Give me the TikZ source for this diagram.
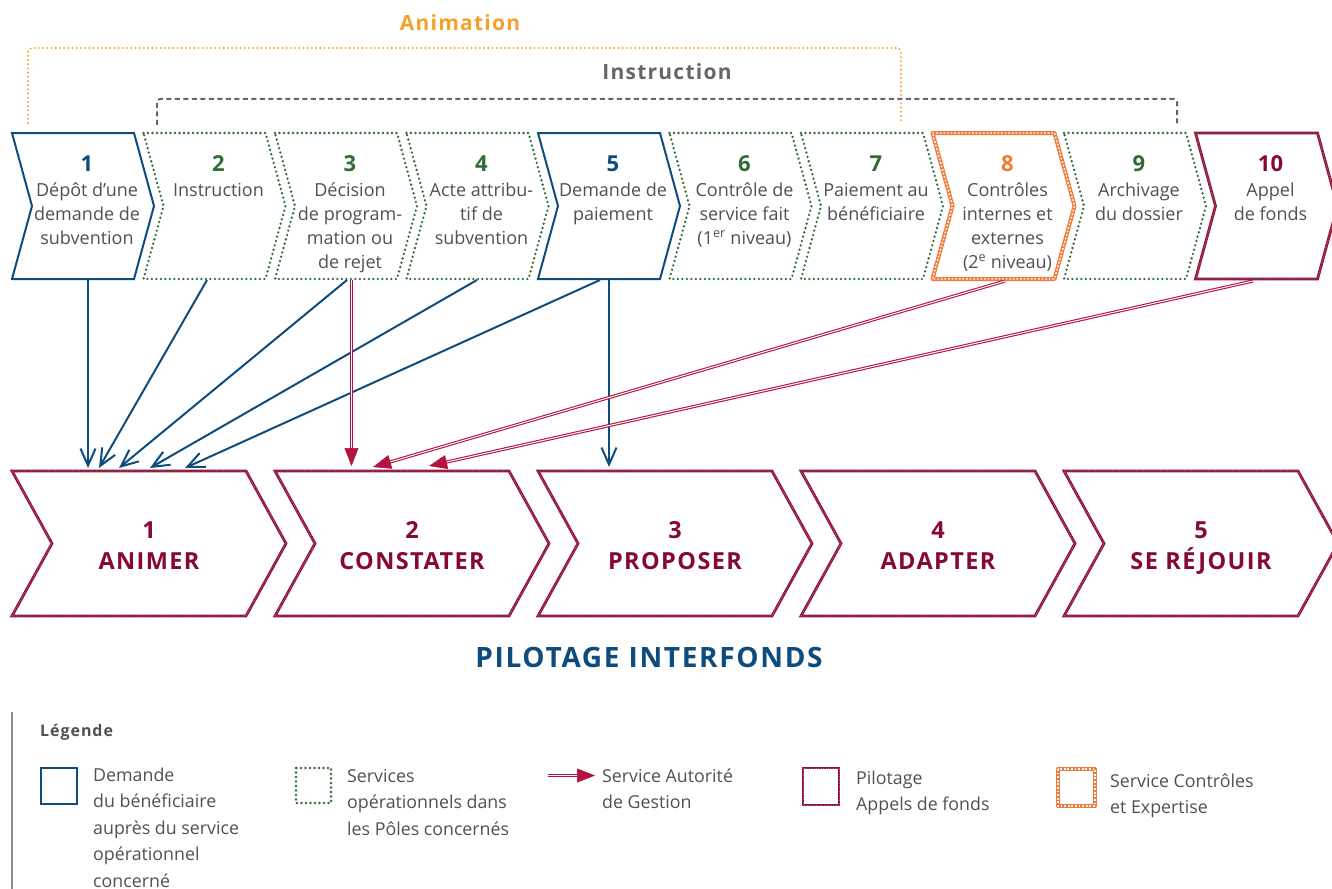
\documentclass[tikz,border=0pt]{standalone}
\usepackage{fontspec}
\setmainfont{Open Sans}
\newfontfamily\spaced{Open Sans}[LetterSpace=6]
\usetikzlibrary{arrows.meta,calc}
\definecolor{blueC}{HTML}{0F4C7E}
\definecolor{greenC}{HTML}{2E6B32}
\definecolor{greenN}{HTML}{2F6B35}
\definecolor{orangeC}{HTML}{F07A3A}
\definecolor{orangeA}{HTML}{F5A02A}
\definecolor{redD}{HTML}{8A1538}
\definecolor{redL}{HTML}{C85A78}
\definecolor{redN}{HTML}{860A2E}
\definecolor{crimC}{HTML}{B5123F}
\definecolor{grayT}{HTML}{505050}
\definecolor{grayB}{HTML}{666666}
\tikzset{
  chevblue/.style={draw=blueC,line width=2pt,line join=miter},
  chevgreen/.style={draw=greenC,line width=2.6pt,dash pattern=on 0pt off 4.5pt,line cap=round},
  chainline/.style={draw=orangeC,line width=4pt,line join=round,postaction={draw=white,line width=1.4pt,dash pattern=on 1.8pt off 1.8pt}},
  pilotline/.style={draw=redD,line width=2.8pt,line join=miter,postaction={draw=redL,line width=0.9pt,dash pattern=on 1pt off 1.4pt}},
  numtxt/.style={anchor=base,inner sep=0pt,font=\fontsize{22}{24}\selectfont\bfseries},
  bodytxt/.style={anchor=base,inner sep=0pt,align=center,text=grayT,font=\fontsize{18}{24}\selectfont},
  lowtxt/.style={anchor=base,inner sep=0pt,align=center,text=redN,font=\spaced\fontsize{23.5}{31.5}\selectfont\bfseries},
  legtxt/.style={anchor=base west,inner sep=0pt,align=left,text=grayT,font=\fontsize{17.8}{26.5}\selectfont},
  feed/.style={draw=blueC,line width=2pt,-{Straight Barb[length=17pt,width=15pt,line width=2pt]}},
  sagline/.style={draw=crimC,line width=1.1pt,double=white,double distance=1pt},
  sagtip/.style={draw=crimC,line width=0.6pt,-{Triangle[length=18pt,width=14pt]}},
}
\begin{document}
\begin{tikzpicture}[x=1pt,y=-1pt]
\useasboundingbox (0,0) rectangle (1332,888);
% brackets
\draw[orangeA,line width=2.2pt,dash pattern=on 0pt off 4.2pt,line cap=round,rounded corners=4pt]
  (28,123) -- (28,48) -- (901,48) -- (901,123);
\draw[grayB,line width=2pt,dash pattern=on 5pt off 3.5pt,rounded corners=3pt]
  (157,125) -- (157,99) -- (1177,99) -- (1177,125);
\node[anchor=base,inner sep=0pt,text=orangeA,font=\spaced\fontsize{21}{24}\selectfont\bfseries] (lanim) at (460,31) {Animation};
\node[anchor=base,inner sep=0pt,text=grayB,font=\spaced\fontsize{21}{24}\selectfont\bfseries] (linstr) at (667,80) {Instruction};
% top chevrons
\foreach \k in {1,2,3,5,6,8}{
  \pgfmathsetmacro\xo{12+131.5*\k}
  \draw[chevgreen] (\xo,133) -- ++(122,0) -- ++(20,73) -- ++(-20,73) -- ++(-122,0) -- ++(20,-73) -- cycle;
}
\foreach \k in {0,4}{
  \pgfmathsetmacro\xo{12+131.5*\k}
  \draw[chevblue] (\xo,133) -- ++(122,0) -- ++(20,73) -- ++(-20,73) -- ++(-122,0) -- ++(20,-73) -- cycle;
}
\draw[chainline] (932.5,133) -- ++(122,0) -- ++(20,73) -- ++(-20,73) -- ++(-122,0) -- ++(20,-73) -- cycle;
\draw[pilotline] (1195.5,133) -- ++(122,0) -- ++(20,73) -- ++(-20,73) -- ++(-122,0) -- ++(20,-73) -- cycle;
% top texts (base anchor = baseline of last line)
\node[numtxt,text=blueC] (n1) at (87,171) {1};
\node[bodytxt] (b1) at (87,244) {Dépôt d’une\\demande de\\subvention};
\node[numtxt,text=greenN] (n2) at (218.5,171) {2};
\node[bodytxt] (b2) at (218.5,196) {Instruction};
\node[numtxt,text=greenN] (n3) at (350,171) {3};
\node[bodytxt] (b3) at (350,268) {Décision\\de program-\\mation ou\\de rejet};
\node[numtxt,text=greenN] (n4) at (481.5,171) {4};
\node[bodytxt] (b4) at (481.5,244) {Acte attribu-\\tif de\\subvention};
\node[numtxt,text=blueC] (n5) at (613,171) {5};
\node[bodytxt] (b5) at (613,220) {Demande de\\paiement};
\node[numtxt,text=greenN] (n6) at (744.5,171) {6};
\node[bodytxt] (b6) at (744.5,244) {Contrôle de\\service fait\\(1\textsuperscript{er} niveau)};
\node[numtxt,text=greenN] (n7) at (876,171) {7};
\node[bodytxt] (b7) at (876,220) {Paiement au\\bénéficiaire};
\node[numtxt,text=orangeC] (n8) at (1007.5,171) {8};
\node[bodytxt] (b8) at (1007.5,268) {Contrôles\\internes et\\externes\\(2\textsuperscript{e} niveau)};
\node[numtxt,text=greenN] (n9) at (1139,171) {9};
\node[bodytxt] (b9) at (1139,220) {Archivage\\du dossier};
\node[numtxt,text=redN] (n10) at (1270.5,171) {10};
\node[bodytxt] (b10) at (1270.5,220) {Appel\\de fonds};
% bottom chevrons
\foreach \k/\lab [count=\i] in {0/ANIMER,1/CONSTATER,2/PROPOSER,3/ADAPTER,4/SE RÉJOUIR}{
  \pgfmathsetmacro\xo{12+263*\k}
  \draw[pilotline] (\xo,471) -- ++(234,0) -- ++(40,72.5) -- ++(-40,72.5) -- ++(-234,0) -- ++(40,-72.5) -- cycle;
  \node[lowtxt] (low\i) at (\xo+137,569.5) {\i\\\lab};
}
\node[anchor=base,inner sep=0pt,text=blueC,font=\spaced\fontsize{28}{30}\selectfont\bfseries] (title) at (649,667) {PILOTAGE INTERFONDS};
% connector end points
\coordinate (s1) at (88,280);
\coordinate (s2) at (207,280);
\coordinate (s3) at (347,280);
\coordinate (s3r) at (351.5,280);
\coordinate (s4) at (477,280);
\coordinate (s5) at (600,280);
\coordinate (s5v) at (609,280);
\coordinate (s8) at (1005,281);
\coordinate (s10) at (1253,281);
\coordinate (e1) at (88,468);
\coordinate (e2) at (99,468);
\coordinate (e3) at (119,468);
\coordinate (e4) at (150,468);
\coordinate (e5) at (185,468);
\coordinate (ep) at (609,467);
\coordinate (c1) at (351.5,466);
\coordinate (c2) at (373,467);
\coordinate (c3) at (429,466);
% blue arrows
\draw[feed] (s1) -- (e1);
\draw[feed] (s2) -- (e2);
\draw[feed] (s3) -- (e3);
\draw[feed] (s4) -- (e4);
\draw[feed] (s5) -- (e5);
\draw[feed] (s5v) -- (ep);
% red double arrows
\draw[sagline] (s3r) -- ($(c1)!16pt!(s3r)$);
\draw[sagtip] ($(c1)!17pt!(s3r)$) -- (c1);
\draw[sagline] (s8) -- ($(c2)!16pt!(s8)$);
\draw[sagtip] ($(c2)!17pt!(s8)$) -- (c2);
\draw[sagline] (s10) -- ($(c3)!16pt!(s10)$);
\draw[sagtip] ($(c3)!17pt!(s10)$) -- (c3);
% legend
\draw[draw=gray!90,line width=2pt] (12,712) -- (12,890);
\node[anchor=base west,inner sep=0pt,text=grayT,font=\spaced\fontsize{16}{18}\selectfont\bfseries] (leg) at (40,736) {Légende};
\draw[chevblue] (41,768) rectangle (77,804);
\node[legtxt] (lg1) at (93,887) {Demande\\du bénéficiaire\\auprès du service\\opérationnel\\concerné};
\draw[chevgreen] (296,768) rectangle (331,803);
\node[legtxt] (lg2) at (347,835) {Services\\opérationnels dans\\les Pôles concernés};
\coordinate (la) at (548,775.5);
\coordinate (lb) at (595,775.5);
\draw[sagline] (la) -- ($(lb)!16pt!(la)$);
\draw[sagtip] ($(lb)!17pt!(la)$) -- (lb);
\node[legtxt] (lg3) at (602,808.5) {Service Autorité\\de Gestion};
\draw[pilotline] (803,768) rectangle (839,805);
\node[legtxt] (lg4) at (856,810.5) {Pilotage\\Appels de fonds};
\draw[chainline] (1058,769) rectangle (1095,806);
\node[legtxt] (lg5) at (1110,813.5) {Service Contrôles\\et Expertise};
\end{tikzpicture}
\end{document}
